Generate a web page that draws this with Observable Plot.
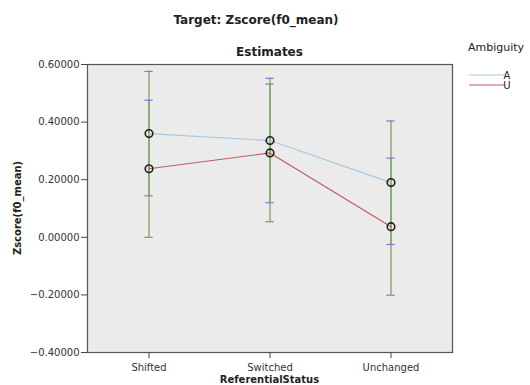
<!DOCTYPE html>
<html>
<head>
<meta charset="utf-8">
<script src="https://cdn.jsdelivr.net/npm/d3@7"></script>
<script src="https://cdn.jsdelivr.net/npm/@observablehq/plot@0.6"></script>
<style>
  html, body { margin: 0; padding: 0; background: #fff; }
  #chart svg { display: block; }
</style>
</head>
<body>
<div id="chart"></div>
<script>
const categories = ["Shifted", "Switched", "Unchanged"];
const series = ["A", "U"];
const colors = ["#a8c9dd", "#c25a5c"];
const meanA = [0.360, 0.336, 0.190];
const lowA  = [0.144, 0.120, -0.025];
const highA = [0.576, 0.552, 0.404];
const meanU = [0.238, 0.293, 0.037];
const lowU  = [0.000, 0.054, -0.201];
const highU = [0.476, 0.532, 0.275];
const yTicks = [-0.4, -0.2, 0.0, 0.2, 0.4, 0.6];

const rows = [];
categories.forEach((c, i) => {
  rows.push({cat: c, grp: "A", mean: meanA[i], lo: lowA[i], hi: highA[i]});
  rows.push({cat: c, grp: "U", mean: meanU[i], lo: lowU[i], hi: highU[i]});
});

const font = "DejaVu Sans, sans-serif";
const W = 530, H = 385;
const mL = 87, mR = 78, mT = 64, mB = 33;
const bw = (W - mL - mR) / categories.length;
const capInset = (bw - 9) / 2;

const chart = Plot.plot({
  width: W, height: H,
  marginLeft: mL, marginRight: mR, marginTop: mT, marginBottom: mB,
  style: {fontFamily: font, fontSize: "10px", color: "#333", background: "#fff"},
  x: {type: "band", domain: categories, padding: 0, label: null},
  y: {domain: [-0.4, 0.6], ticks: yTicks, tickFormat: d3.format(".5f"), label: null},
  color: {domain: series, range: colors},
  marks: [
    Plot.frame({fill: "#ebebeb", stroke: null}),
    Plot.axisY({ticks: yTicks, tickFormat: d3.format(".5f"), tickSize: 6, tickPadding: 2, stroke: "#444", fill: "#333", label: null}),
    Plot.axisX({tickSize: 6, tickPadding: 5, stroke: "#444", fill: "#333", label: null}),
    Plot.ruleX(rows, {x: "cat", y1: "lo", y2: "hi", stroke: "#7fa862", strokeWidth: 1.6, strokeOpacity: 0.85}),
    Plot.tickY(rows, {x: "cat", y: "lo", stroke: "#8878c8", strokeWidth: 1.2, insetLeft: capInset, insetRight: capInset}),
    Plot.tickY(rows, {x: "cat", y: "hi", stroke: "#8878c8", strokeWidth: 1.2, insetLeft: capInset, insetRight: capInset}),
    Plot.line(rows, {x: "cat", y: "mean", z: "grp", stroke: "grp", strokeWidth: 1.2}),
    Plot.dot(rows, {x: "cat", y: "mean", r: 3.8, stroke: "#222", strokeWidth: 1.6, fill: "none"}),
    Plot.frame({stroke: "#555", strokeWidth: 1.2})
  ]
});

document.getElementById("chart").appendChild(chart);

const svg = d3.select(chart);
const plotCx = (mL + (W - mR)) / 2;

svg.append("text").attr("x", 256).attr("y", 24).attr("text-anchor", "middle")
  .attr("font-family", font).attr("font-size", 12).attr("font-weight", "bold").attr("fill", "#222")
  .text("Target: Zscore(f0_mean)");
svg.append("text").attr("x", plotCx).attr("y", mT - 8).attr("text-anchor", "middle")
  .attr("font-family", font).attr("font-size", 12).attr("font-weight", "bold").attr("fill", "#222")
  .text("Estimates");
svg.append("text").attr("x", plotCx).attr("y", H - 2).attr("text-anchor", "middle")
  .attr("font-family", font).attr("font-size", 10).attr("font-weight", "bold").attr("fill", "#222")
  .text("ReferentialStatus");
svg.append("text").attr("transform", `translate(21,${(mT + H - mB) / 2}) rotate(-90)`).attr("text-anchor", "middle")
  .attr("font-family", font).attr("font-size", 10).attr("font-weight", "bold").attr("fill", "#222")
  .text("Zscore(f0_mean)");

// legend
const lg = svg.append("g").attr("font-family", font).attr("fill", "#222");
lg.append("text").attr("x", 496).attr("y", 51).attr("text-anchor", "middle").attr("font-size", 11).text("Ambiguity");
series.forEach((s, i) => {
  const y = 75 + i * 10;
  lg.append("line").attr("x1", 469).attr("x2", 505).attr("y1", y).attr("y2", y)
    .attr("stroke", colors[i]).attr("stroke-width", 1.2);
  lg.append("text").attr("x", 507).attr("y", y + 4).attr("font-size", 10).text(s);
});
</script>
</body>
</html>
